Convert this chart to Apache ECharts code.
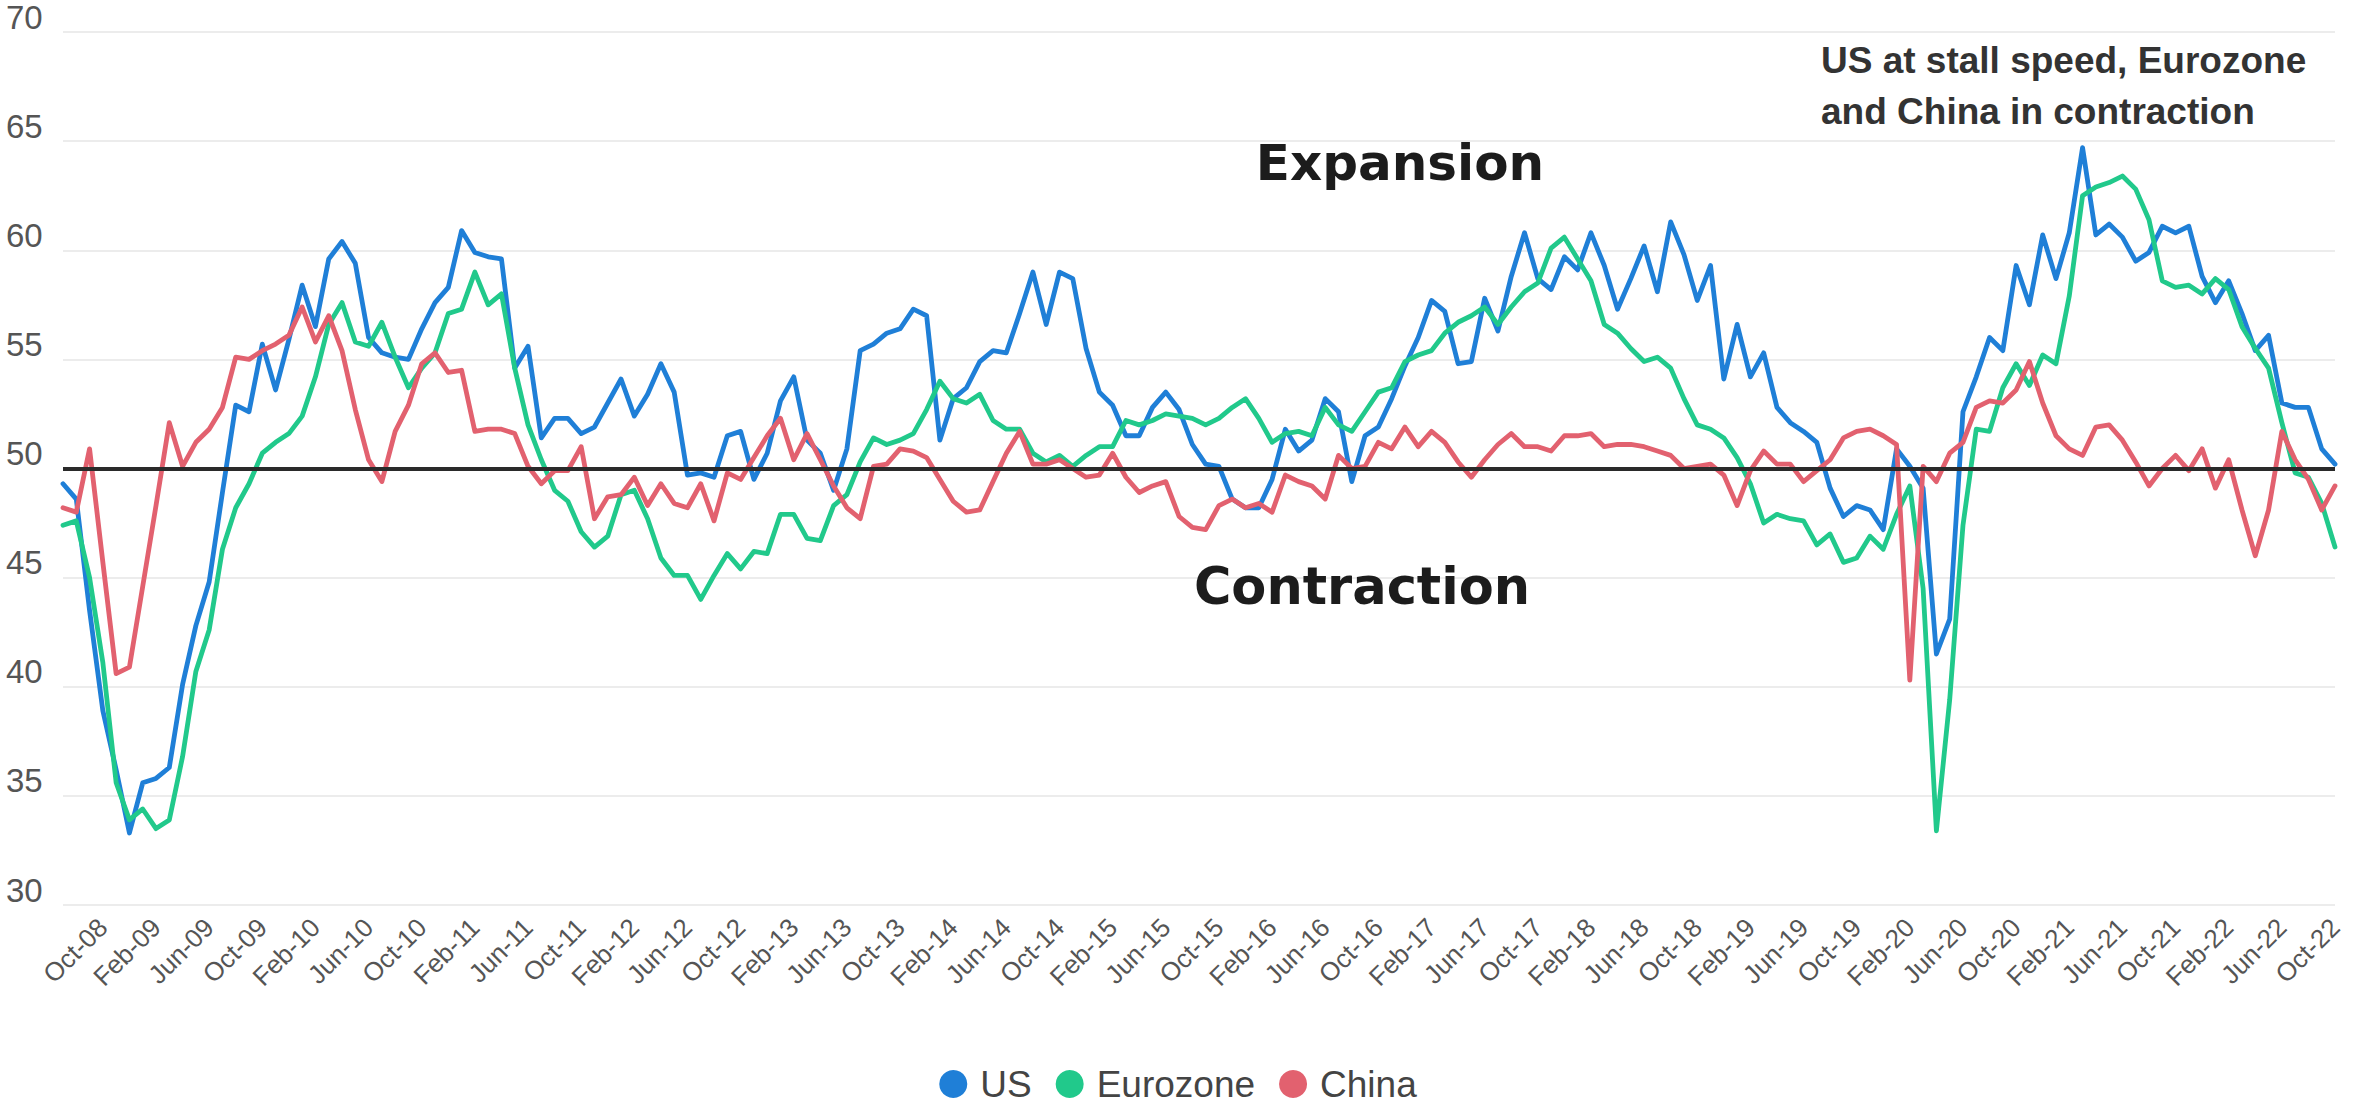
<!DOCTYPE html>
<html>
<head>
<meta charset="utf-8">
<script src="https://cdn.jsdelivr.net/npm/echarts@6/dist/echarts.min.js"></script>
<style>
  html, body { margin: 0; padding: 0; background: #ffffff; }
  #chart { width: 2356px; height: 1103px; }
</style>
</head>
<body>
<div id="chart"></div>
<script>
// ---- Data (monthly manufacturing PMI, Jul-08 .. Oct-22) ----
const monthNames = ['Jan','Feb','Mar','Apr','May','Jun','Jul','Aug','Sep','Oct','Nov','Dec'];
const startYear = 2008, startMonth = 6; // Jul-08
const seriesNames = ['US', 'Eurozone', 'China'];
const yTicks = [30, 35, 40, 45, 50, 55, 60, 65, 70];
const thresholdValue = 50;

const us = [
  49.3, 48.6, 43.5, 38.9, 36.2, 33.3,
  35.6, 35.8, 36.3, 40.1, 42.8, 44.8, 48.9, 52.9, 52.6, 55.7, 53.6, 55.9,
  58.4, 56.5, 59.6, 60.4, 59.4, 56.0, 55.3, 55.1, 55.0, 56.4, 57.6, 58.3,
  60.9, 59.9, 59.7, 59.6, 54.6, 55.6, 51.4, 52.3, 52.3, 51.6, 51.9, 53.0,
  54.1, 52.4, 53.4, 54.8, 53.5, 49.7, 49.8, 49.6, 51.5, 51.7, 49.5, 50.7,
  53.1, 54.2, 51.3, 50.7, 49.0, 50.9, 55.4, 55.7, 56.2, 56.4, 57.3, 57.0,
  51.3, 53.2, 53.7, 54.9, 55.4, 55.3, 57.1, 59.0, 56.6, 59.0, 58.7, 55.5,
  53.5, 52.9, 51.5, 51.5, 52.8, 53.5, 52.7, 51.1, 50.2, 50.1, 48.6, 48.2,
  48.2, 49.5, 51.8, 50.8, 51.3, 53.2, 52.6, 49.4, 51.5, 51.9, 53.2, 54.7,
  56.0, 57.7, 57.2, 54.8, 54.9, 57.8, 56.3, 58.8, 60.8, 58.7, 58.2, 59.7,
  59.1, 60.8, 59.3, 57.3, 58.7, 60.2, 58.1, 61.3, 59.8, 57.7, 59.3, 54.1,
  56.6, 54.2, 55.3, 52.8, 52.1, 51.7, 51.2, 49.1, 47.8, 48.3, 48.1, 47.2,
  50.9, 50.1, 49.1, 41.5, 43.1, 52.6, 54.2, 56.0, 55.4, 59.3, 57.5, 60.7,
  58.7, 60.8, 64.7, 60.7, 61.2, 60.6, 59.5, 59.9, 61.1, 60.8, 61.1, 58.8,
  57.6, 58.6, 57.1, 55.4, 56.1, 53.0, 52.8, 52.8, 50.9, 50.2
];

const eurozone = [
  47.4, 47.6, 45.0, 41.1, 35.6, 33.9,
  34.4, 33.5, 33.9, 36.8, 40.7, 42.6, 46.3, 48.2, 49.3, 50.7, 51.2, 51.6,
  52.4, 54.2, 56.6, 57.6, 55.8, 55.6, 56.7, 55.1, 53.7, 54.6, 55.3, 57.1,
  57.3, 59.0, 57.5, 58.0, 54.6, 52.0, 50.4, 49.0, 48.5, 47.1, 46.4, 46.9,
  48.8, 49.0, 47.7, 45.9, 45.1, 45.1, 44.0, 45.1, 46.1, 45.4, 46.2, 46.1,
  47.9, 47.9, 46.8, 46.7, 48.3, 48.8, 50.3, 51.4, 51.1, 51.3, 51.6, 52.7,
  54.0, 53.2, 53.0, 53.4, 52.2, 51.8, 51.8, 50.7, 50.3, 50.6, 50.1, 50.6,
  51.0, 51.0, 52.2, 52.0, 52.2, 52.5, 52.4, 52.3, 52.0, 52.3, 52.8, 53.2,
  52.3, 51.2, 51.6, 51.7, 51.5, 52.8, 52.0, 51.7, 52.6, 53.5, 53.7, 54.9,
  55.2, 55.4, 56.2, 56.7, 57.0, 57.4, 56.6, 57.4, 58.1, 58.5, 60.1, 60.6,
  59.6, 58.6, 56.6, 56.2, 55.5, 54.9, 55.1, 54.6, 53.2, 52.0, 51.8, 51.4,
  50.5, 49.3, 47.5, 47.9, 47.7, 47.6, 46.5, 47.0, 45.7, 45.9, 46.9, 46.3,
  47.9, 49.2, 44.5, 33.4, 39.4, 47.4, 51.8, 51.7, 53.7, 54.8, 53.8, 55.2,
  54.8, 57.9, 62.5, 62.9, 63.1, 63.4, 62.8, 61.4, 58.6, 58.3, 58.4, 58.0,
  58.7, 58.2, 56.5, 55.5, 54.6, 52.1, 49.8, 49.6, 48.4, 46.4
];

const china = [
  48.2, 48.0, 50.9, 45.7, 40.6, 40.9,
  44.6, 48.3, 52.1, 50.1, 51.2, 51.8, 52.8, 55.1, 55.0, 55.4, 55.7, 56.1,
  57.4, 55.8, 57.0, 55.4, 52.7, 50.4, 49.4, 51.7, 52.9, 54.8, 55.3, 54.4,
  54.5, 51.7, 51.8, 51.8, 51.6, 50.1, 49.3, 49.9, 49.9, 51.0, 47.7, 48.7,
  48.8, 49.6, 48.3, 49.3, 48.4, 48.2, 49.3, 47.6, 49.8, 49.5, 50.5, 51.5,
  52.3, 50.4, 51.6, 50.4, 49.2, 48.2, 47.7, 50.1, 50.2, 50.9, 50.8, 50.5,
  49.5, 48.5, 48.0, 48.1, 49.4, 50.7, 51.7, 50.2, 50.2, 50.4, 50.0, 49.6,
  49.7, 50.7, 49.6, 48.9, 49.2, 49.4, 47.8, 47.3, 47.2, 48.3, 48.6, 48.2,
  48.4, 48.0, 49.7, 49.4, 49.2, 48.6, 50.6, 50.0, 50.1, 51.2, 50.9, 51.9,
  51.0, 51.7, 51.2, 50.3, 49.6, 50.4, 51.1, 51.6, 51.0, 51.0, 50.8, 51.5,
  51.5, 51.6, 51.0, 51.1, 51.1, 51.0, 50.8, 50.6, 50.0, 50.1, 50.2, 49.7,
  48.3, 49.9, 50.8, 50.2, 50.2, 49.4, 49.9, 50.4, 51.4, 51.7, 51.8, 51.5,
  51.1, 40.3, 50.1, 49.4, 50.7, 51.2, 52.8, 53.1, 53.0, 53.6, 54.9, 53.0,
  51.5, 50.9, 50.6, 51.9, 52.0, 51.3, 50.3, 49.2, 50.0, 50.6, 49.9, 50.9,
  49.1, 50.4, 48.1, 46.0, 48.1, 51.7, 50.4, 49.5, 48.1, 49.2
];

const annotations = {
  expansion: 'Expansion',
  contraction: 'Contraction',
  noteLine1: 'US at stall speed, Eurozone',
  noteLine2: 'and China in contraction'
};

// ---- Category labels (Mon-YY) ----
const categories = [];
for (let k = 0; k < us.length; k++) {
  const m = (startMonth + k) % 12;
  const y = startYear + Math.floor((startMonth + k) / 12);
  categories.push(monthNames[m] + '-' + String(y % 100).padStart(2, '0'));
}

const colors = ['#1f7fd7', '#21c98b', '#e2616f'];
const lineW = 4.8;

const chart = echarts.init(document.getElementById('chart'), null, { renderer: 'svg' });
chart.setOption({
  animation: false,
  backgroundColor: '#ffffff',
  color: colors,
  grid: { left: 63, right: 21, top: 32, bottom: 198, containLabel: false },
  legend: {
    data: seriesNames,
    left: 'center',
    top: 1060,
    icon: 'circle',
    itemWidth: 28,
    itemHeight: 28,
    itemGap: 24,
    textStyle: { fontSize: 37, lineHeight: 38, color: '#444', fontFamily: 'Liberation Sans, Arial, sans-serif', padding: [0, 0, 0, 8] }
  },
  xAxis: {
    type: 'category',
    data: categories,
    boundaryGap: false,
    axisLine: { show: false },
    axisTick: { show: false },
    splitLine: { show: false },
    axisLabel: {
      interval: function (idx) { return (idx - 3) % 4 === 0; },
      rotate: 45,
      fontSize: 26,
      color: '#555',
      fontFamily: 'Liberation Sans, Arial, sans-serif',
      margin: 18
    }
  },
  yAxis: {
    type: 'value',
    min: yTicks[0],
    max: yTicks[yTicks.length - 1],
    interval: 5,
    axisLine: { show: false },
    axisTick: { show: false },
    axisLabel: {
      fontSize: 33,
      lineHeight: 30,
      color: '#555',
      align: 'left',
      verticalAlign: 'bottom',
      margin: 57,
      fontFamily: 'Liberation Sans, Arial, sans-serif'
    },
    splitLine: { lineStyle: { color: '#ececec', width: 2 } }
  },
  series: [
    { name: seriesNames[0], type: 'line', data: us, showSymbol: false, symbol: 'none',
      lineStyle: { width: lineW, color: colors[0], join: 'round', cap: 'round' } },
    { name: seriesNames[1], type: 'line', data: eurozone, showSymbol: false, symbol: 'none',
      lineStyle: { width: lineW, color: colors[1], join: 'round', cap: 'round' } },
    { name: seriesNames[2], type: 'line', data: china, showSymbol: false, symbol: 'none',
      lineStyle: { width: lineW, color: colors[2], join: 'round', cap: 'round' },
      markLine: {
        silent: true,
        symbol: ['none', 'none'],
        label: { show: false },
        lineStyle: { color: '#2a2a2a', width: 4, type: 'solid' },
        data: [{ yAxis: thresholdValue }]
      } }
  ],
  graphic: [
    { type: 'text', x: 1400, y: 163, z: 100,
      style: { text: annotations.expansion, fontSize: 50, fontWeight: 'bold', fontFamily: 'DejaVu Sans, sans-serif',
               fill: '#1c1c1c', align: 'center', verticalAlign: 'middle' } },
    { type: 'text', x: 1362, y: 586, z: 100,
      style: { text: annotations.contraction, fontSize: 51, fontWeight: 'bold', fontFamily: 'DejaVu Sans, sans-serif',
               fill: '#1c1c1c', align: 'center', verticalAlign: 'middle' } },
    { type: 'text', x: 1821, y: 60, z: 100,
      style: { text: annotations.noteLine1, fontSize: 37, fontWeight: 'bold', fontFamily: 'Liberation Sans, Arial, sans-serif',
               fill: '#333', align: 'left', verticalAlign: 'middle' } },
    { type: 'text', x: 1821, y: 111, z: 100,
      style: { text: annotations.noteLine2, fontSize: 37, fontWeight: 'bold', fontFamily: 'Liberation Sans, Arial, sans-serif',
               fill: '#333', align: 'left', verticalAlign: 'middle' } }
  ]
});
</script>
</body>
</html>
